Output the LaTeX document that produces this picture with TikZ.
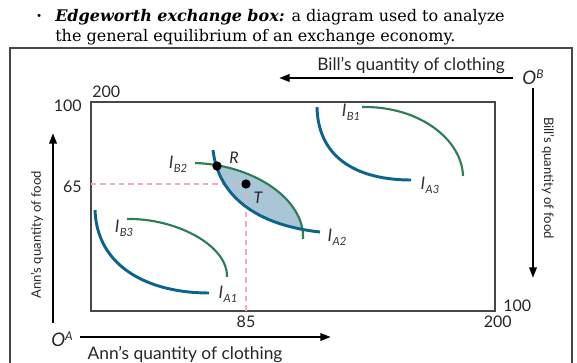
\documentclass[tikz,border=0pt]{standalone}
\usepackage{fontspec}
\setmainfont{DejaVu Serif}
\newfontfamily\diagfont{Lato}
\usetikzlibrary{arrows.meta}
\definecolor{ablue}{RGB}{10,100,140}
\definecolor{bgreen}{RGB}{45,125,85}
\definecolor{lensfill}{RGB}{168,198,214}
\definecolor{dpink}{RGB}{242,170,200}
\definecolor{framegray}{RGB}{70,70,75}
\newcommand{\Ilab}[1]{\textit{I}\kern0.3pt\raisebox{-0.45ex}{\fontsize{8.5}{9}\selectfont\itshape #1}}
\tikzset{
  acurve/.style={draw=ablue,line width=2.2pt},
  bcurve/.style={draw=bgreen,line width=1.6pt},
  guide/.style={draw=dpink,line width=0.8pt,dash pattern=on 4pt off 3pt},
  bigarrow/.style={line width=1.8pt,-{Triangle[length=8pt,width=5.5pt]}},
  lab/.style={font=\diagfont\fontsize{12}{13}\selectfont,inner sep=0pt,text=black!85},
  axlab/.style={font=\diagfont\fontsize{13}{14}\selectfont,inner sep=0pt,text=black!85},
  vlab/.style={font=\diagfont\fontsize{9.8}{11}\selectfont,inner sep=0pt,text=black!85},
  curvelab/.style={font=\diagfont\fontsize{13}{14}\selectfont,inner sep=0pt,text=black!80},
  dot/.style={circle,fill=black,inner sep=0pt,minimum size=7pt}
}
\begin{document}
\begin{tikzpicture}[x=0.75pt,y=-0.75pt]
\useasboundingbox (0,0) rectangle (577,363);
% header
\node[anchor=base west,inner sep=0pt,font=\fontsize{12}{14}\selectfont] (bul) at (36,22) {\textbf{·}};
\node[anchor=base west,inner sep=0pt,font=\fontsize{12}{14}\selectfont] (h1) at (55,22) {\textbf{\textit{Edgeworth exchange box:}} a diagram used to analyze};
\node[anchor=base west,inner sep=0pt,font=\fontsize{12}{14}\selectfont] (h2) at (55,42) {the general equilibrium of an exchange economy.};
% outer frame
\draw[framegray,line width=1.5pt] (10,363) -- (10,48) -- (572,48) -- (572,363);
% inner box
\draw[framegray,line width=1.1pt] (91,102) rectangle (495,311);
% lens fill
\begin{scope}
\clip (195,163) .. controls (255,165) and (305,200) .. (303,239) -- (303,262) -- (150,262) -- (150,163) -- cycle;
\fill[lensfill] (213,150) .. controls (218,195) and (255,225) .. (320,232) -- (400,232) -- (400,100) -- (213,100) -- cycle;
\end{scope}
% guides
\coordinate (gl) at (91,184);
\coordinate (gb) at (246,311);
\coordinate (Tc) at (246,184);
\draw[guide] (gl) -- (Tc);
\draw[guide] (Tc) -- (gb);
% curves
\draw[acurve] (95,210) .. controls (97,268) and (150,293) .. (209,293);
\draw[bcurve] (127,219) .. controls (175,218) and (228,245) .. (227,277);
\draw[bcurve] (195,163) .. controls (255,165) and (305,200) .. (303,239);
\draw[acurve] (213,150) .. controls (218,195) and (255,225) .. (320,232);
\draw[bcurve] (362,107) .. controls (420,106) and (462,140) .. (463,176);
\draw[acurve] (317,107) .. controls (318,160) and (360,180) .. (411,180);
\node[dot] (R) at (217,166) {};
\node[dot] (T) at (Tc) {};
% curve labels
\node[curvelab] (lA1) at (228,294) {\Ilab{A1}};
\node[curvelab] (lB3) at (124,228) {\Ilab{B3}};
\node[curvelab] (lB2) at (178,164) {\Ilab{B2}};
\node[curvelab] (lA2) at (337,237) {\Ilab{A2}};
\node[curvelab] (lB1) at (351,112) {\Ilab{B1}};
\node[curvelab] (lA3) at (430,185) {\Ilab{A3}};
\node[lab,font=\diagfont\itshape\fontsize{12}{13}\selectfont] (lR) at (234,158) {R};
\node[lab,font=\diagfont\itshape\fontsize{12}{13}\selectfont] (lT) at (258,198) {T};
% axis numbers
\node[lab,anchor=west] (n200a) at (92,92) {200};
\node[lab,anchor=east] (n100a) at (82,106) {100};
\node[lab,anchor=east] (n65) at (82,187) {65};
\node[lab] (n85) at (246,322) {85};
\node[lab,anchor=west] (n100b) at (503,306) {100};
\node[lab,anchor=east] (n200b) at (512,322) {200};
% origins
\node[lab,font=\diagfont\itshape\fontsize{14}{15}\selectfont] (OA) at (62,339) {\textit{O}\raisebox{0.6ex}{\fontsize{9}{10}\selectfont A}};
\node[lab,font=\diagfont\itshape\fontsize{14}{15}\selectfont] (OB) at (533,77) {\textit{O}\raisebox{0.6ex}{\fontsize{9}{10}\selectfont B}};
% axis arrows
\coordinate (aa0) at (80,337);
\coordinate (aa1) at (331,337);
\draw[bigarrow] (aa0) -- (aa1);
\node[axlab,anchor=base] (tA) at (185,359) {Ann’s quantity of clothing};
\coordinate (ab0) at (513,78);
\coordinate (ab1) at (279,78);
\draw[bigarrow] (ab0) -- (ab1);
\node[axlab,anchor=base] (tB) at (411,71) {Bill’s quantity of clothing};
\coordinate (af0) at (53,323);
\coordinate (af1) at (53,133);
\draw[bigarrow] (af0) -- (af1);
\node[vlab,rotate=90] (tAf) at (37,235) {Ann’s quantity of food};
\coordinate (bf0) at (533,88);
\coordinate (bf1) at (533,278);
\draw[bigarrow] (bf0) -- (bf1);
\node[vlab,rotate=-90] (tBf) at (548,178) {Bill’s quantity of food};
\end{tikzpicture}
\end{document}
